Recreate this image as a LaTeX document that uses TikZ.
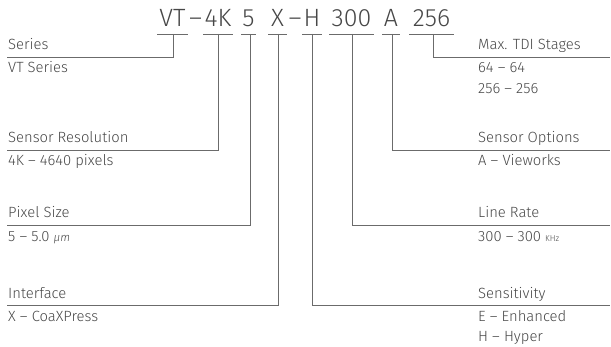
\documentclass[tikz,border=0pt]{standalone}
\usepackage{fontspec}
\setmainfont{Fira Sans}[UprightFont=* Light, ItalicFont=* Light Italic]
\begin{document}
\begin{tikzpicture}[x=1pt,y=-1pt,
  txt/.style={inner sep=0pt,text=black!72,font=\fontsize{14.8}{17}\selectfont,anchor=base west},
  code/.style={inner sep=0pt,text=black!72,font=\fontsize{25}{30}\selectfont,anchor=base},
  ln/.style={draw=black!58,line width=0.9pt}]
\useasboundingbox (0,0) rectangle (611,347);
% title tokens
\node[code] (tVT) at (172.5,27) {VT};
\node[code] (d1) at (195.5,27) {–};
\node[code] (t4K) at (218,27) {4K};
\node[code] (t5) at (248.5,27) {5};
\node[code] (tX) at (277.5,27) {X};
\node[code] (d2) at (295,27) {–};
\node[code] (tH) at (312,27) {H};
\node[code] (t300) at (351.5,27) {300};
\node[code] (tA) at (391,27) {A};
\node[code] (t256) at (431.5,27) {256};
% underlines
\draw[ln] (157,34) -- (188,34);
\draw[ln] (203,34) -- (233,34);
\draw[ln] (241,34) -- (256,34);
\draw[ln] (268,34) -- (287,34);
\draw[ln] (302,34) -- (322,34);
\draw[ln] (329,34) -- (374,34);
\draw[ln] (382,34) -- (400,34);
\draw[ln] (409,34) -- (454,34);
% underline anchor points
\coordinate (uVT) at (173,34);
\coordinate (u4K) at (218,34);
\coordinate (u5) at (250,34);
\coordinate (uX) at (278,34);
\coordinate (uH) at (312,34);
\coordinate (u300) at (352,34);
\coordinate (uA) at (392,34);
\coordinate (u256) at (433,34);
% line ends
\coordinate (eSeries) at (7,57);
\coordinate (eRes) at (7,150);
\coordinate (ePix) at (7,225.5);
\coordinate (eInt) at (7,305.5);
\coordinate (eSens) at (610,305.5);
\coordinate (eRate) at (610,225.5);
\coordinate (eOpt) at (610,150);
\coordinate (eTDI) at (610,57);
% connectors
\draw[ln] (uVT) |- (eSeries);
\draw[ln] (u4K) |- (eRes);
\draw[ln] (u5) |- (ePix);
\draw[ln] (uX) |- (eInt);
\draw[ln] (uH) |- (eSens);
\draw[ln] (u300) |- (eRate);
\draw[ln] (uA) |- (eOpt);
\draw[ln] (u256) |- (eTDI);
% left labels
\node[txt] (lSeries) at (8,50) {Series};
\node[txt] (vSeries) at (8,73) {VT Series};
\node[txt] (lRes) at (8,142.5) {Sensor Resolution};
\node[txt] (vRes) at (8,166) {4K – 4640 pixels};
\node[txt] (lPix) at (8,218) {Pixel Size};
\node[txt] (vPix) at (8,242) {5 – 5.0 {\fontsize{11.5}{13}\selectfont\itshape µm}};
\node[txt] (lInt) at (8,298.5) {Interface};
\node[txt] (vInt) at (8,321.5) {X – CoaXPress};
% right labels
\node[txt] (lTDI) at (478,50) {Max. TDI Stages};
\node[txt] (vTDI1) at (478,73) {64 – 64};
\node[txt] (vTDI2) at (478,94) {256 – 256};
\node[txt] (lOpt) at (478,142.5) {Sensor Options};
\node[txt] (vOpt) at (478,166) {A – Vieworks};
\node[txt] (lRate) at (478,218) {Line Rate};
\node[txt] (vRate) at (478,242) {300 – 300 {\fontsize{8.5}{10}\selectfont KHz}};
\node[txt] (lSens) at (478,298.5) {Sensitivity};
\node[txt] (vSens1) at (478,321.5) {E – Enhanced};
\node[txt] (vSens2) at (478,342) {H – Hyper};
\end{tikzpicture}
\end{document}
